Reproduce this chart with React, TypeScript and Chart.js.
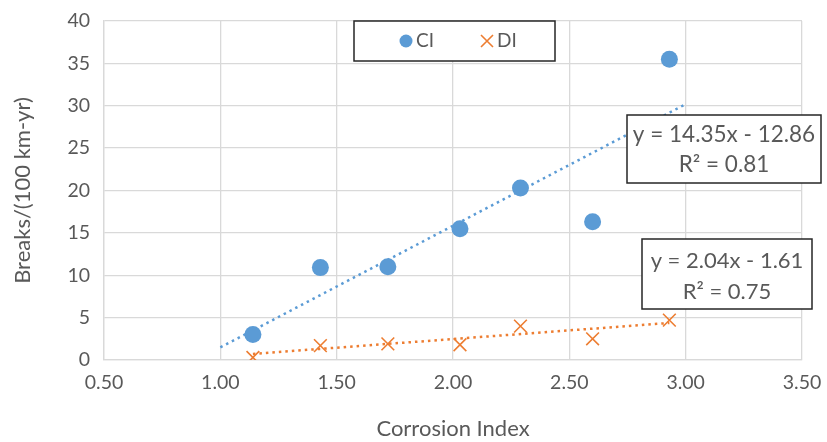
import React, { useEffect, useRef } from "react";
import { Chart, registerables } from "chart.js";

Chart.register(...registerables);

const ciX = [1.14, 1.43, 1.72, 2.03, 2.29, 2.6, 2.93];
const ciY = [3.0, 10.9, 11.0, 15.5, 20.3, 16.3, 35.5];
const diX = [1.14, 1.43, 1.72, 2.03, 2.29, 2.6, 2.93];
const diY = [0.3, 1.7, 1.9, 1.8, 4.0, 2.5, 4.7];

const ciTrendX = [1.0, 3.0];
const ciTrendY = [1.49, 30.19];
const diTrendX = [1.14, 2.93];
const diTrendY = [0.72, 4.37];

const legendLabels = ["CI", "DI"];
const ciEquation = ["y = 14.35x - 12.86", "R² = 0.81"];
const diEquation = ["y = 2.04x - 1.61", "R² = 0.75"];

const BLUE = "#5b9bd5";
const ORANGE = "#ed7d31";
const TEXT = "#595959";
const FONT = "Lato, 'Open Sans', sans-serif";

const toPts = (xs: number[], ys: number[]) => xs.map((x, i) => ({ x, y: ys[i] }));

export default function App() {
  const ref = useRef<HTMLCanvasElement | null>(null);

  useEffect(() => {
    if (!ref.current) return;

    const overlay = {
      id: "overlay",
      afterDraw(chart: any) {
        const ctx = chart.ctx as CanvasRenderingContext2D;
        ctx.save();
        const box = (x: number, y: number, w: number, h: number) => {
          ctx.fillStyle = "#ffffff";
          ctx.fillRect(x, y, w, h);
          ctx.strokeStyle = "#262626";
          ctx.lineWidth = 1.5;
          ctx.strokeRect(x, y, w, h);
        };
        // legend
        box(354, 21, 201, 40);
        ctx.fillStyle = BLUE;
        ctx.beginPath();
        ctx.arc(406, 41, 6.5, 0, Math.PI * 2);
        ctx.fill();
        ctx.strokeStyle = ORANGE;
        ctx.lineWidth = 1.6;
        ctx.beginPath();
        ctx.moveTo(481, 35);
        ctx.lineTo(493, 47);
        ctx.moveTo(493, 35);
        ctx.lineTo(481, 47);
        ctx.stroke();
        ctx.fillStyle = TEXT;
        ctx.font = `19px ${FONT}`;
        ctx.textBaseline = "middle";
        ctx.textAlign = "left";
        ctx.fillText(legendLabels[0], 416, 41);
        ctx.fillText(legendLabels[1], 497, 41);

        // equations
        ctx.font = `22.5px ${FONT}`;
        ctx.textAlign = "center";
        box(627, 115, 194, 68);
        ctx.fillStyle = TEXT;
        ctx.fillText(ciEquation[0], 724, 135);
        ctx.fillText(ciEquation[1], 724, 165);
        ctx.font = `22px ${FONT}`;
        box(642, 239, 170, 70);
        ctx.fillStyle = TEXT;
        ctx.fillText(diEquation[0], 727, 261);
        ctx.fillText(diEquation[1], 727, 292);
        ctx.restore();
      },
    };

    const chart = new Chart(ref.current, {
      type: "scatter",
      data: {
        datasets: [
          {
            label: "CI",
            data: toPts(ciX, ciY),
            pointStyle: "circle",
            pointRadius: 8.5,
            backgroundColor: BLUE,
            borderColor: BLUE,
            borderWidth: 0,
          },
          {
            label: "DI",
            data: toPts(diX, diY),
            pointStyle: "cross",
            rotation: 45,
            pointRadius: 9,
            backgroundColor: ORANGE,
            borderColor: ORANGE,
            borderWidth: 1.6,
          } as any,
          {
            label: "CI trend",
            type: "line",
            data: toPts(ciTrendX, ciTrendY),
            showLine: true,
            pointRadius: 0,
            borderColor: BLUE,
            borderWidth: 2.5,
            borderDash: [2.5, 4],
            fill: false,
          } as any,
          {
            label: "DI trend",
            type: "line",
            data: toPts(diTrendX, diTrendY),
            showLine: true,
            pointRadius: 0,
            borderColor: ORANGE,
            borderWidth: 2.5,
            borderDash: [2.5, 4],
            fill: false,
          } as any,
        ],
      },
      options: {
        animation: false,
        responsive: false,
        maintainAspectRatio: false,
        layout: { padding: { left: 10, right: 25, top: 21, bottom: 0 } },
        plugins: {
          legend: { display: false },
          tooltip: { enabled: false },
        },
        scales: {
          x: {
            type: "linear",
            min: 0.5,
            max: 3.5,
            ticks: {
              stepSize: 0.5,
              color: TEXT,
              font: { family: FONT, size: 19.5 },
              padding: 11,
              callback: (v: any) => Number(v).toFixed(2),
            },
            grid: { color: "#d9d9d9", lineWidth: 1.3, drawTicks: false },
            border: { color: "#d9d9d9", width: 1.3 },
            title: {
              display: true,
              text: "Corrosion Index",
              color: TEXT,
              font: { family: FONT, size: 22 },
              padding: { top: 4, bottom: 0 },
            },
            afterFit: (s: any) => {
              s.height = 82;
              s.paddingLeft = 0;
              s.paddingRight = 0;
            },
          },
          y: {
            type: "linear",
            min: 0,
            max: 40,
            ticks: {
              stepSize: 5,
              color: TEXT,
              font: { family: FONT, size: 19.5 },
              padding: 14,
            },
            grid: { color: "#d9d9d9", lineWidth: 1.3, drawTicks: false },
            border: { color: "#d9d9d9", width: 1.3 },
            title: {
              display: true,
              text: "Breaks/(100 km-yr)",
              color: TEXT,
              font: { family: FONT, size: 22 },
              padding: { top: 0, bottom: 4 },
            },
            afterFit: (s: any) => {
              s.width = 94;
              s.paddingTop = 0;
              s.paddingBottom = 0;
            },
          },
        },
      },
      plugins: [overlay],
    });

    return () => chart.destroy();
  }, []);

  return (
    <div style={{ position: "fixed", left: 0, top: 0, width: 827, height: 442, background: "#fff" }}>
      <canvas ref={ref} width={827} height={442} />
    </div>
  );
}
